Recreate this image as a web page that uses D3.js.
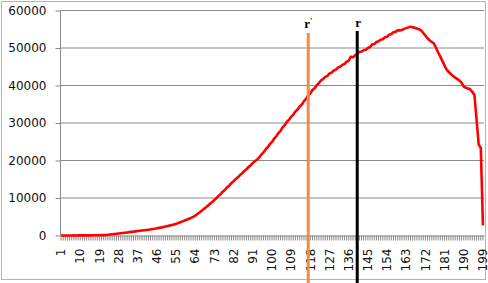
<!DOCTYPE html>
<html>
<head>
<meta charset="utf-8">
<script src="https://cdn.jsdelivr.net/npm/d3@7"></script>
<style>
  body { margin: 0; background: #fff; }
  svg { display: block; }
  .axis text { font-family: "DejaVu Sans", sans-serif; font-size: 12px; fill: #111; }
  .axis path, .axis line { stroke: #8a8a8a; }
</style>
</head>
<body>
<svg id="chart"></svg>
<script>
// categories 1..199
const categories = d3.range(1, 200);

// red series
const values = [
  0, 10, 5, 20, 15, 10, 25, 20, 30, 25,
  35, 30, 40, 45, 40, 55, 60, 70, 85, 100,
  110, 150, 200, 260, 330, 400, 470, 540, 610, 680,
  750, 820, 890, 960, 1030, 1110, 1180, 1250, 1320, 1390,
  1460, 1540, 1620, 1710, 1800, 1920, 2030, 2150, 2280, 2400,
  2530, 2660, 2800, 2950, 3100, 3320, 3540, 3760, 3990, 4220,
  4460, 4700, 4990, 5300, 5720, 6150, 6600, 7050, 7500, 7980,
  8520, 8940, 9510, 10000, 10620, 11080, 11750, 12210, 12880, 13350,
  14010, 14480, 15080, 15500, 16130, 16570, 17220, 17650, 18290, 18710,
  19350, 19780, 20250, 20780, 21580, 22150, 22960, 23520, 24350, 24950,
  25820, 26430, 27320, 27930, 28820, 29430, 30340, 30880, 31700, 32230,
  33060, 33580, 34420, 34930, 35820, 36430, 37330, 37920, 38780, 39280,
  40080, 40580, 41380, 41680, 42300, 42580, 43200, 43430, 44000, 44220,
  44800, 44980, 45500, 45720, 46350, 46600, 47700, 47500, 48050, 48400,
  48950, 49050, 49400, 49520, 50000, 50250, 50900, 51050, 51600, 51780,
  52200, 52330, 52850, 53020, 53550, 53720, 54200, 54300, 54750, 54700,
  54800, 55100, 55300, 55500, 55700, 55500, 55400, 55200, 55000, 54700,
  54000, 53300, 52600, 52000, 51600, 51200, 50000, 48800, 47700, 46500,
  45300, 44200, 43600, 43000, 42500, 42100, 41700, 41300, 40700, 39700,
  39400, 39200, 39000, 38300, 37500, 31000, 24300, 23300, 2700
];

const yTicks = [0, 10000, 20000, 30000, 40000, 50000, 60000];
const xLabels = d3.range(1, 200, 9);

// marker lines
const markers = [
  { cat: 117, label: "r", prime: true, color: "#f58a46" },
  { cat: 140, label: "r", prime: false, color: "#000000" }
];

const width = 488, height = 283;
const svg = d3.select("#chart").attr("width", width).attr("height", height);

// chart area border
svg.append("rect")
  .attr("x", 1.5).attr("y", 1.5)
  .attr("width", 484).attr("height", 278)
  .attr("fill", "none").attr("stroke", "#b4b4b4");

const x = d3.scaleBand().domain(categories).range([60, 484]);
const y = d3.scaleLinear().domain([0, 60000]).range([235.5, 10.5]);

// gridlines
svg.append("g")
  .selectAll("line")
  .data(yTicks.slice(1))
  .join("line")
  .attr("x1", 60).attr("x2", 484)
  .attr("y1", d => y(d)).attr("y2", d => y(d))
  .attr("stroke", "#8a8a8a");

// y axis
const yAxis = svg.append("g")
  .attr("class", "axis")
  .attr("transform", "translate(60.5,0)")
  .call(d3.axisLeft(y).tickValues(yTicks).tickSize(5).tickPadding(9).tickFormat(d3.format("d")));
yAxis.select(".domain").attr("d", `M0,${y(60000)}V${y(0)}`);

// x axis
const xAxis = svg.append("g")
  .attr("class", "axis")
  .attr("transform", `translate(0,${y(0)})`)
  .call(d3.axisBottom(x).tickSize(5).tickSizeOuter(0)
    .tickFormat(d => xLabels.includes(d) ? d : ""));
xAxis.selectAll(".tick line").attr("stroke", "#9a9a9a");
xAxis.selectAll(".tick text")
  .attr("transform", "rotate(-90)")
  .attr("text-anchor", "end")
  .attr("x", -13)
  .attr("y", 0)
  .attr("dy", "0.35em");

// red series
const line = d3.line()
  .x((d, i) => x(categories[i]) + x.bandwidth() / 2)
  .y(d => y(d));

svg.append("path")
  .datum(values)
  .attr("fill", "none")
  .attr("stroke", "#ff0000")
  .attr("stroke-width", 2.6)
  .attr("stroke-linejoin", "round")
  .attr("d", line);

// vertical marker lines
markers.forEach(m => {
  const cx = x(m.cat) + x.bandwidth() / 2;
  svg.append("line")
    .attr("x1", cx).attr("x2", cx)
    .attr("y1", m.prime ? 33 : 31).attr("y2", height)
    .attr("stroke", m.color)
    .attr("stroke-width", 3);
  const t = svg.append("text")
    .attr("x", cx + (m.prime ? 0 : 1)).attr("y", m.prime ? 28 : 27)
    .attr("text-anchor", "middle")
    .attr("font-family", "Liberation Serif, serif")
    .attr("font-weight", "bold")
    .attr("font-size", 13)
    .text(m.label);
  if (m.prime) {
    t.append("tspan").attr("font-size", 8).attr("dy", -4).text("'");
  }
});
</script>
</body>
</html>
